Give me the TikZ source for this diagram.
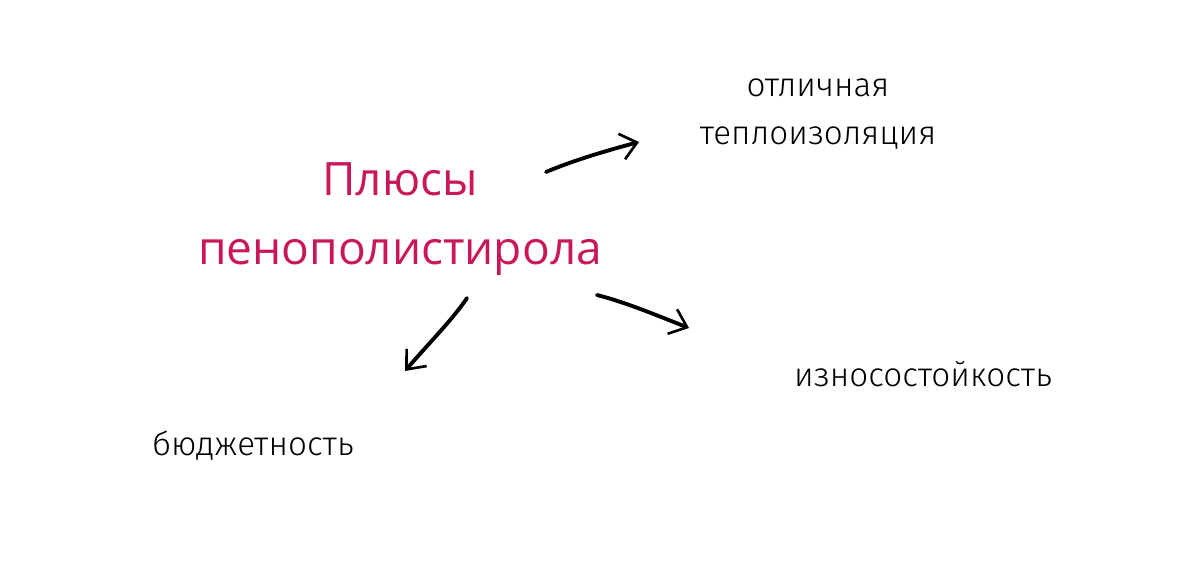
\documentclass[tikz,border=0pt]{standalone}
\usepackage{fontspec}
\setmainfont{Fira Sans}[UprightFont=* Light]
\newfontfamily\headfont{Open Sans}
\usetikzlibrary{arrows.meta}
\definecolor{plusred}{RGB}{200,24,90}

\begin{document}
\begin{tikzpicture}[x=0.02cm,y=0.02cm,
  benefit/.style={font=\fontsize{18.9}{27.3}\selectfont, text=black},
  sketch/.style={line width=2.2pt, line cap=round,
    -{Straight Barb[length=9pt,width=15pt,line width=1.5pt]}}]

\useasboundingbox (0,0) rectangle (1200,587);

% Title
\node[text=plusred, font=\headfont\fontsize{26.2}{39}\selectfont, align=center]
  (title) at (400,368) {Плюсы\\пенополистирола};

% Benefits
\node[benefit, align=center] (heat) at (818,473) {отличная\\теплоизоляция};
\node[benefit] (wear) at (923,213) {износостойкость};
\node[benefit] (cost) at (253,141) {бюджетность};

% Arrows
\coordinate (a1) at (546,415);
\coordinate (b1) at (639,445);
\coordinate (a2) at (467,289);
\coordinate (b2) at (405,216);
\coordinate (a3) at (597,292);
\coordinate (b3) at (689,259);

\draw[sketch] (a1) .. controls (572,426) and (605,436) .. (b1);
\draw[sketch] (a2) .. controls (453,268) and (430,245) .. (b2);
\draw[sketch] (a3) .. controls (628,284) and (658,271) .. (b3);

\end{tikzpicture}
\end{document}
